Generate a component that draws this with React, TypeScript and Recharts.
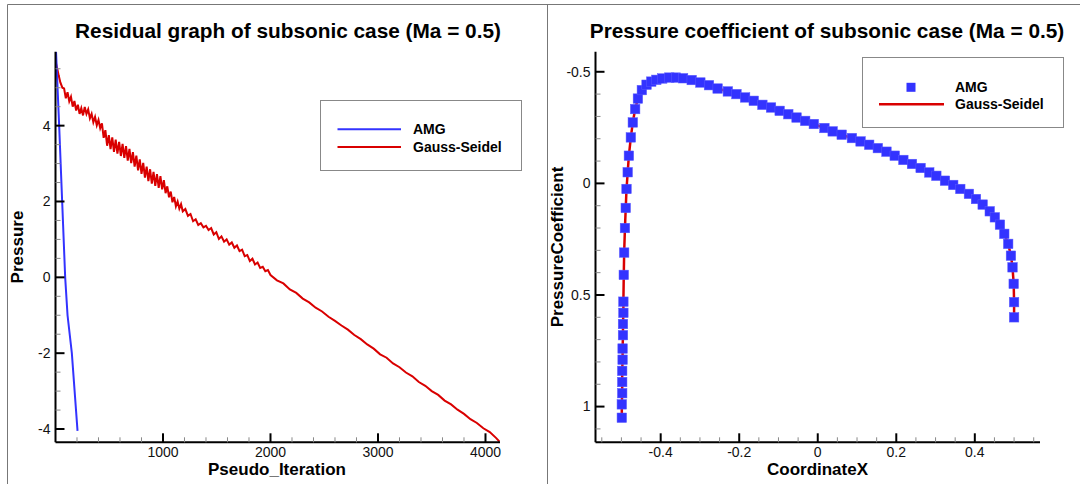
import React from 'react';
import { ComposedChart, LineChart, Line, Scatter, XAxis, YAxis } from 'recharts';

const FONT = '"Liberation Sans", Arial, Helvetica, sans-serif';

// ---- residual history (left panel) ----
const amgIteration = [5, 34, 62, 90, 112, 152, 205];
const amgPressure = [5.95, 4.0, 2.0, 0.0, -1.0, -2.0, -4.05];

const gsIteration = [
  0, 15, 30, 45,
  64, 80, 96, 112, 128, 144, 160, 176, 192, 208, 224, 240, 256, 272, 288, 304,
  320, 336, 352, 368, 384, 400, 416, 432, 448, 464, 480, 496, 512, 528, 544, 560,
  576, 592, 608, 624, 640, 656, 672, 688, 704, 720, 736, 752, 768, 784, 800, 816,
  832, 848, 864, 880, 896, 912, 928, 944, 960, 976, 992, 1008, 1024, 1040, 1056, 1072,
  1088, 1104, 1120, 1136, 1152, 1168, 1184,
  1208, 1232, 1256, 1280, 1304, 1328, 1352, 1376, 1400, 1424, 1448, 1472, 1496, 1520,
  1544, 1568, 1592, 1616, 1640, 1664, 1688, 1712, 1736, 1760, 1784, 1808, 1832, 1856,
  1880, 1904, 1928, 1952, 1976, 2000,
  2060, 2120, 2180, 2240, 2300, 2360, 2420, 2480, 2540, 2600, 2660, 2720, 2780, 2840,
  2900, 2960, 3020, 3080, 3140, 3200, 3260, 3320, 3380, 3440, 3500, 3560, 3620, 3680,
  3740, 3800, 3860, 3920, 3980, 4040, 4100, 4130,
];
const gsPressure = [
  5.70, 5.52, 5.32, 5.14,
  5.00, 4.98, 4.72, 4.88, 4.64, 4.76, 4.50, 4.65, 4.40, 4.55, 4.31, 4.46, 4.27, 4.49, 4.31, 4.43,
  4.19, 4.31, 4.09, 4.23, 4.01, 4.15, 3.93, 4.06, 3.68, 3.88, 3.47, 3.75, 3.38, 3.69, 3.31, 3.63,
  3.26, 3.57, 3.20, 3.52, 3.15, 3.46, 3.08, 3.39, 3.01, 3.30, 2.92, 3.21, 2.82, 3.11, 2.73, 3.02,
  2.63, 2.92, 2.54, 2.85, 2.47, 2.78, 2.41, 2.72, 2.36, 2.67, 2.32, 2.56, 2.22, 2.40, 2.11, 2.26,
  1.98, 2.12, 1.87, 2.00, 1.81, 1.93, 1.74,
  1.80, 1.62, 1.67, 1.48, 1.53, 1.38, 1.43, 1.32, 1.36, 1.25, 1.30, 1.13, 1.19, 1.01,
  1.08, 0.94, 1.00, 0.86, 0.92, 0.78, 0.84, 0.69, 0.73, 0.56, 0.59, 0.43, 0.49, 0.34,
  0.39, 0.25, 0.28, 0.16, 0.19, 0.06,
  -0.08, -0.16, -0.32, -0.41, -0.56, -0.66, -0.80, -0.90, -1.04, -1.15, -1.27, -1.38, -1.52, -1.63,
  -1.77, -1.88, -2.03, -2.12, -2.27, -2.37, -2.51, -2.61, -2.76, -2.86, -3.00, -3.10, -3.25, -3.35,
  -3.49, -3.60, -3.74, -3.84, -3.98, -4.08, -4.24, -4.33,
];

const residualXTicks = [200, 400, 600, 800, 1000, 1200, 1400, 1600, 1800, 2000, 2200, 2400, 2600, 2800, 3000, 3200, 3400, 3600, 3800, 4000];
const residualXMajor = [1000, 2000, 3000, 4000];
const residualYTicks = [-4, -3.5, -3, -2.5, -2, -1.5, -1, -0.5, 0, 0.5, 1, 1.5, 2, 2.5, 3, 3.5, 4, 4.5, 5, 5.5];
const residualYMajor = [-4, -2, 0, 2, 4];

// ---- pressure coefficient (right panel) ----
const coordX = [
  -0.499, -0.499, -0.498, -0.498, -0.498, -0.497, -0.497, -0.496, -0.496, -0.495, -0.495,
  -0.494, -0.493, -0.491, -0.489, -0.487, -0.484, -0.481, -0.476, -0.471, -0.465, -0.458,
  -0.448, -0.436, -0.424, -0.411, -0.396, -0.378, -0.361, -0.343, -0.321, -0.299, -0.277,
  -0.255, -0.229, -0.207, -0.185, -0.163, -0.141, -0.119, -0.097, -0.075, -0.054, -0.032,
  -0.010, 0.017, 0.038, 0.061, 0.087, 0.109, 0.131, 0.153, 0.175, 0.196, 0.218, 0.240,
  0.262, 0.284, 0.302, 0.324, 0.345, 0.363, 0.385, 0.403, 0.420, 0.438, 0.451, 0.464,
  0.475, 0.485, 0.492, 0.496, 0.499, 0.500, 0.500,
];
const cpAmg = [
  1.05, 0.99, 0.94, 0.89, 0.84, 0.79, 0.74, 0.68, 0.63, 0.58, 0.53,
  0.41, 0.31, 0.20, 0.11, 0.025, -0.05, -0.124, -0.206, -0.273, -0.333, -0.38,
  -0.418, -0.442, -0.456, -0.464, -0.47, -0.474, -0.474, -0.471, -0.463, -0.452, -0.44,
  -0.425, -0.412, -0.40, -0.385, -0.37, -0.352, -0.34, -0.325, -0.31, -0.295, -0.28,
  -0.266, -0.248, -0.233, -0.218, -0.203, -0.188, -0.173, -0.158, -0.142, -0.124, -0.105, -0.087,
  -0.069, -0.049, -0.034, -0.012, 0.007, 0.025, 0.047, 0.07, 0.095, 0.125, 0.152, 0.185,
  0.226, 0.271, 0.324, 0.376, 0.45, 0.532, 0.60,
];
const cpGaussSeidel = [
  1.05, 0.99, 0.94, 0.89, 0.84, 0.79, 0.74, 0.68, 0.63, 0.58, 0.53,
  0.41, 0.31, 0.20, 0.11, 0.025, -0.05, -0.124, -0.206, -0.273, -0.333, -0.38,
  -0.418, -0.442, -0.456, -0.464, -0.47, -0.474, -0.474, -0.471, -0.463, -0.452, -0.44,
  -0.425, -0.412, -0.40, -0.385, -0.37, -0.352, -0.34, -0.325, -0.31, -0.295, -0.28,
  -0.266, -0.248, -0.233, -0.218, -0.203, -0.188, -0.173, -0.158, -0.142, -0.124, -0.105, -0.087,
  -0.069, -0.049, -0.034, -0.012, 0.007, 0.025, 0.047, 0.07, 0.095, 0.125, 0.152, 0.185,
  0.226, 0.271, 0.324, 0.376, 0.45, 0.532, 0.60,
];

const cpXTicks = [-0.55, -0.5, -0.45, -0.4, -0.35, -0.3, -0.25, -0.2, -0.15, -0.1, -0.05, 0, 0.05, 0.1, 0.15, 0.2, 0.25, 0.3, 0.35, 0.4, 0.45, 0.5, 0.55];
const cpXMajor = [-0.4, -0.2, 0, 0.2, 0.4];
const cpYTicks = [-0.5, -0.4, -0.3, -0.2, -0.1, 0, 0.1, 0.2, 0.3, 0.4, 0.5, 0.6, 0.7, 0.8, 0.9, 1, 1.1];
const cpYMajor = [-0.5, 0, 0.5, 1];

const amgRows = amgIteration.map((it, i) => ({ it, p: amgPressure[i] }));
const gsRows = gsIteration.map((it, i) => ({ it, p: gsPressure[i] }));
const cpRows = coordX.map((x, i) => ({ x, amg: cpAmg[i], gs: cpGaussSeidel[i] }));

const BLUE = '#3333ff';
const RED = '#d90000';
const MARGIN = { top: 51.7, right: 40, bottom: 11.7, left: 15.5 };
const axisLine = { stroke: '#000', strokeWidth: 2 };
const SQ = 9.5;

const isMajor = (v: number, majors: number[]) => majors.some((m) => Math.abs(m - v) < 1e-9);

// tecplot-like ticks: pointing inward, minor ones shorter and grey
const makeTick = (majors: number[], side: 'left' | 'bottom') => (props: any) => {
  const { x, y, payload } = props;
  const v = payload.value;
  const major = isMajor(v, majors);
  const len = major ? 9 : 5;
  const stroke = major ? '#000' : '#888';
  const sw = major ? 2 : 1;
  if (side === 'left') {
    return (
      <g>
        <line x1={x} y1={y} x2={x + len} y2={y} stroke={stroke} strokeWidth={sw} />
        {major && (
          <text x={x - 5} y={y} dy="0.35em" textAnchor="end" fontSize={14} fill="#111" fontFamily={FONT}>
            {String(v)}
          </text>
        )}
      </g>
    );
  }
  return (
    <g>
      <line x1={x} y1={y} x2={x} y2={y - len} stroke={stroke} strokeWidth={sw} />
      {major && (
        <text x={x} y={y + 15} textAnchor="middle" fontSize={14} fill="#111" fontFamily={FONT}>
          {String(v)}
        </text>
      )}
    </g>
  );
};

const SquareMark = (props: any) => {
  const { cx, cy } = props;
  if (cx == null || cy == null) return null;
  return <rect x={cx - SQ / 2} y={cy - SQ / 2} width={SQ} height={SQ} fill={BLUE} stroke="#5a5aff" strokeWidth={0.5} />;
};

const ResidualChart = () => (
  <LineChart width={540} height={484} margin={MARGIN}>
    <XAxis
      type="number"
      dataKey="it"
      domain={[0, 4135]}
      ticks={residualXTicks}
      interval={0}
      allowDataOverflow
      height={30}
      tickSize={0}
      tickMargin={0}
      tickLine={false}
      axisLine={axisLine}
      tick={makeTick(residualXMajor, 'bottom')}
    />
    <YAxis
      type="number"
      domain={[-4.35, 5.95]}
      ticks={residualYTicks}
      interval={0}
      allowDataOverflow
      width={40}
      tickSize={0}
      tickMargin={0}
      tickLine={false}
      axisLine={axisLine}
      tick={makeTick(residualYMajor, 'left')}
    />
    <Line data={gsRows} dataKey="p" type="linear" stroke={RED} strokeWidth={2} dot={false} isAnimationActive={false} />
    <Line data={amgRows} dataKey="p" type="linear" stroke={BLUE} strokeWidth={2} dot={false} isAnimationActive={false} />
  </LineChart>
);

const PressureChart = () => (
  <ComposedChart width={540} height={484} data={cpRows} margin={MARGIN}>
    <XAxis
      type="number"
      dataKey="x"
      domain={[-0.566, 0.566]}
      ticks={cpXTicks}
      interval={0}
      allowDataOverflow
      height={30}
      tickSize={0}
      tickMargin={0}
      tickLine={false}
      axisLine={axisLine}
      tick={makeTick(cpXMajor, 'bottom')}
    />
    <YAxis
      type="number"
      domain={[-0.59, 1.16]}
      reversed
      ticks={cpYTicks}
      interval={0}
      allowDataOverflow
      width={40}
      tickSize={0}
      tickMargin={0}
      tickLine={false}
      axisLine={axisLine}
      tick={makeTick(cpYMajor, 'left')}
    />
    <Scatter dataKey="amg" shape={SquareMark} fill={BLUE} isAnimationActive={false} />
    <Line dataKey="gs" type="linear" stroke={RED} strokeWidth={2.5} dot={false} isAnimationActive={false} />
  </ComposedChart>
);

const Overlay = () => (
  <svg width={1080} height={484} style={{ position: 'absolute', left: 0, top: 0, pointerEvents: 'none' }} fontFamily={FONT}>
    {/* frame */}
    <line x1={7.5} y1={4.5} x2={1080} y2={4.5} stroke="#777" />
    <line x1={7.5} y1={4.5} x2={7.5} y2={484} stroke="#777" />
    <line x1={547.5} y1={4.5} x2={547.5} y2={484} stroke="#777" />

    {/* titles */}
    <text x={288} y={37.6} textAnchor="middle" fontSize={20.8} fontWeight="bold" fill="#000">
      Residual graph of subsonic case (Ma = 0.5)
    </text>
    <text x={827} y={37.6} textAnchor="middle" fontSize={20.8} fontWeight="bold" fill="#000">
      Pressure coefficient of subsonic case (Ma = 0.5)
    </text>

    {/* axis titles */}
    <text x={277} y={475} textAnchor="middle" fontSize={17} fontWeight="bold" fill="#000">Pseudo_Iteration</text>
    <text transform="translate(17.5,247) rotate(-90)" textAnchor="middle" dominantBaseline="central" fontSize={17} fontWeight="bold" fill="#000">
      Pressure
    </text>
    <text x={817.5} y={475} textAnchor="middle" fontSize={17} fontWeight="bold" fill="#000">CoordinateX</text>
    <text transform="translate(557.5,247) rotate(-90)" textAnchor="middle" dominantBaseline="central" fontSize={17} fontWeight="bold" fill="#000">
      PressureCoefficient
    </text>

    {/* left legend */}
    <rect x={320.5} y={100.5} width={201} height={70} fill="#fff" stroke="#888" />
    <line x1={337.5} y1={129.3} x2={401} y2={129.3} stroke={BLUE} strokeWidth={2} />
    <line x1={337.5} y1={147} x2={401} y2={147} stroke={RED} strokeWidth={2} />
    <text x={413} y={134.3} fontSize={14} fontWeight="bold" fill="#000">AMG</text>
    <text x={413} y={152} fontSize={14} fontWeight="bold" fill="#000">Gauss-Seidel</text>

    {/* right legend */}
    <rect x={862.5} y={57.5} width={201} height={70} fill="#fff" stroke="#888" />
    <rect x={906.5} y={82.8} width={9} height={9} fill={BLUE} />
    <line x1={879} y1={104.3} x2={944} y2={104.3} stroke={RED} strokeWidth={2.5} />
    <text x={955} y={92} fontSize={14} fontWeight="bold" fill="#000">AMG</text>
    <text x={955} y={109} fontSize={14} fontWeight="bold" fill="#000">Gauss-Seidel</text>
  </svg>
);

export default function App() {
  return (
    <div style={{ position: 'absolute', left: 0, top: 0, width: 1080, height: 484, background: '#fff', overflow: 'hidden' }}>
      <div style={{ position: 'absolute', left: 0, top: 0 }}>
        <ResidualChart />
      </div>
      <div style={{ position: 'absolute', left: 540, top: 0 }}>
        <PressureChart />
      </div>
      <Overlay />
    </div>
  );
}
